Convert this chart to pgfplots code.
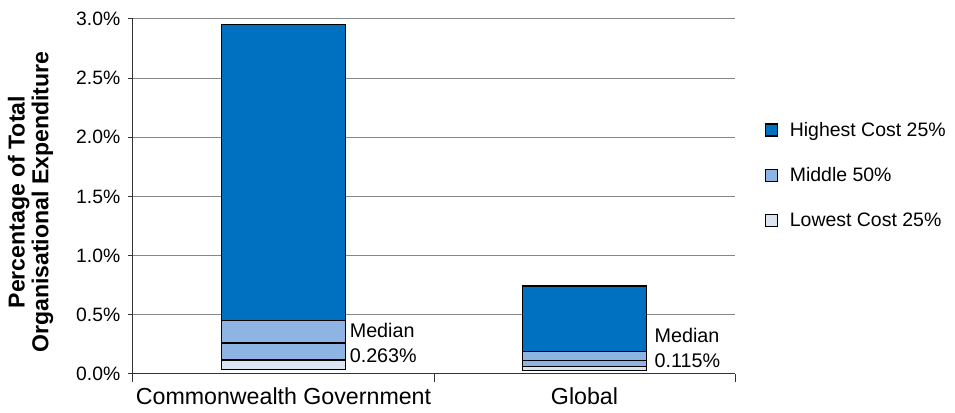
\documentclass[border=0pt]{standalone}
\usepackage{fontspec}
\setmainfont{Liberation Sans}
\usepackage{pgfplots}
\pgfplotsset{compat=1.18}
\definecolor{hi}{HTML}{0070C0}
\definecolor{mid}{HTML}{8DB4E2}
\definecolor{lo}{HTML}{DBE5F1}
\definecolor{gridc}{RGB}{134,134,134}
\begin{document}
\begin{tikzpicture}
\begin{axis}[
  scale only axis, width=451.5pt, height=266.25pt,
  xmin=-0.5, xmax=1.5, ymin=0, ymax=3,
  ybar stacked, bar width=0.41,
  clip=false,
  axis x line*=bottom, axis y line*=left,
  axis line style={line width=0.75pt, color=black!80},
  xtick={0,1}, xticklabels={Commonwealth Government, Global},
  minor xtick={-0.5,0.5,1.5},
  tick align=outside,
  major x tick style={draw=none},
  minor x tick style={line width=0.75pt, color=black!80},
  minor tick length=6pt,
  major tick length=4pt,
  ytick={0,0.5,1,1.5,2,2.5,3},
  y tick style={line width=0.75pt, color=black!80},
  ymajorgrids, grid style={line width=0.75pt, color=gridc},
  /pgf/number format/assume math mode=true,
  yticklabel={\pgfmathprintnumber[fixed,fixed zerofill,precision=1]{\tick}\%},
  yticklabel style={font=\fontsize{14.5}{17}\selectfont, xshift=-2pt},
  xticklabel style={font=\fontsize{17.4}{20}\selectfont, yshift=-3pt},
  ylabel={Percentage of Total\\Organisational Expenditure},
  ylabel style={font=\fontsize{17.3}{17.8}\selectfont\bfseries, align=center,
     at={(axis description cs:-0.170,0.484)}, anchor=center},
  legend image code/.code={\draw[#1, draw=black, line width=0.9pt] (0pt,-4.5pt) rectangle (9pt,4.5pt);
     \path[draw=none, fill=none] (0pt,0pt) -- (16pt,0pt);},
  legend style={at={(1.0498,0.56)}, anchor=west, draw=none, fill=none,
     font=\fontsize{14.6}{17}\selectfont, row sep=18pt, inner sep=0pt},
  legend cell align=left,
]
\addplot[draw=none, fill=none, forget plot] coordinates {(0,0.040) (1,0.028)};
\addplot[fill=lo, draw=black, line width=1pt, forget plot] coordinates {(0,0.078) (1,0.037)};
\addplot[fill=mid, draw=black, line width=1pt, forget plot] coordinates {(0,0.145) (1,0.050)};
\addplot[fill=mid, draw=black, line width=1pt, forget plot] coordinates {(0,0.191) (1,0.075)};
\addplot[fill=hi, draw=black, line width=1pt, forget plot] coordinates {(0,2.501) (1,0.555)};
\addlegendimage{fill=hi}
\addlegendentry{Highest Cost 25\%}
\addlegendimage{fill=mid}
\addlegendentry{Middle 50\%}
\addlegendimage{fill=lo}
\addlegendentry{Lowest Cost 25\%}
\node[anchor=west, align=left, font=\fontsize{14.8}{19}\selectfont, inner sep=1pt] at (axis cs:0.215,0.262) {Median\\0.263\%};
\node[anchor=west, align=left, font=\fontsize{14.8}{19}\selectfont, inner sep=1pt] at (axis cs:1.228,0.22) {Median\\0.115\%};
\end{axis}
\path[use as bounding box] (-99.75pt,-29.25pt) rectangle (616.5pt,280.5pt);
\end{tikzpicture}
\end{document}
